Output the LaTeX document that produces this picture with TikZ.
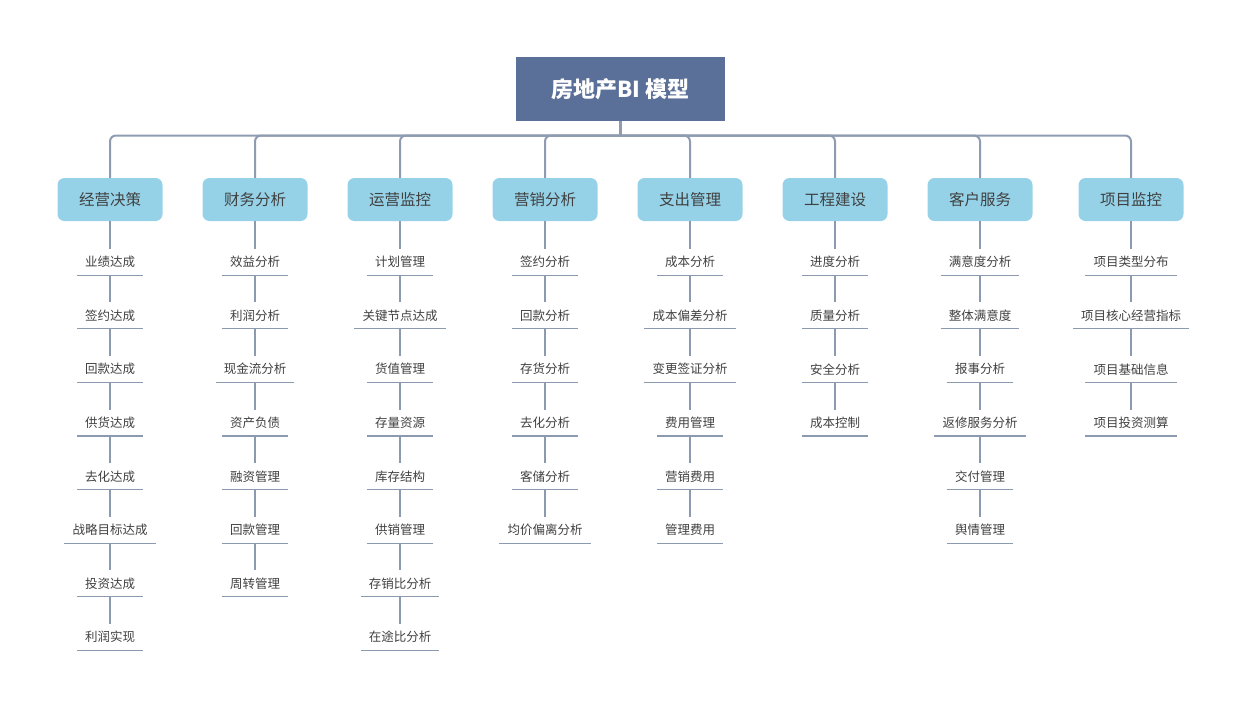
\documentclass[tikz,border=0pt]{standalone}
\usepackage{fontspec}
\setmainfont{Noto Sans CJK SC}
\definecolor{rootfill}{HTML}{5A7098}
\definecolor{catfill}{HTML}{95D2E7}
\definecolor{busc}{HTML}{8E9BB0}
\definecolor{leafline}{HTML}{8C9AAF}
\definecolor{txt}{HTML}{404040}
\tikzset{
  rootbox/.style={fill=rootfill, minimum width=209pt, minimum height=64pt, inner sep=0pt,
    text=white, font=\fontsize{22}{24}\selectfont\bfseries},
  catbox/.style={fill=catfill, rounded corners=7pt, minimum width=105pt, minimum height=43pt,
    inner sep=0pt, text=txt, font=\fontsize{15.5}{17}\selectfont},
  leaf/.style={inner xsep=8pt, inner ysep=0pt, minimum height=26pt, text=txt,
    font=\fontsize{12.5}{14}\selectfont},
  busline/.style={draw=busc, line width=3pt},
  branch/.style={draw=busc, line width=2pt, rounded corners=6pt},
  leafconn/.style={draw=leafline, line width=1.1pt},
  uline/.style={draw=leafline, line width=1.1pt}
}
\begin{document}
\begin{tikzpicture}[x=1pt,y=-1pt]
\useasboundingbox (0,0) rectangle (1247,710);
\node[rootbox] (root) at (620.5,89) {房地产BI 模型};
\coordinate (bus) at (620.5,135.5);
\coordinate (busL) at (110,135.5);
\coordinate (busR) at (1131,135.5);
\draw[busline] (root.south) -- (bus);

\newcommand\mkcat[4]{% name, x, label, list
  \node[catbox] (#1) at (#2,199.5) {#3};
  \draw[branch] (bus) -| (#1.north);
  \def\prev{#1}
  \foreach \t [count=\i, remember=\i as \lasti (initially 0)] in {#4} {
    \node[leaf] (#1-\i) at (#2,{262+53.6*(\i-1)}) {\t};
    \draw[uline] (#1-\i.south west) -- (#1-\i.south east);
    \ifnum\i=1
      \draw[leafconn] (#1.south) -- (#1-\i.north);
    \else
      \draw[leafconn] (#1-\lasti.south) -- (#1-\i.north);
    \fi
  }
}
\mkcat{c1}{110}{经营决策}{业绩达成,签约达成,回款达成,供货达成,去化达成,战略目标达成,投资达成,利润实现}
\mkcat{c2}{255}{财务分析}{效益分析,利润分析,现金流分析,资产负债,融资管理,回款管理,周转管理}
\mkcat{c3}{400}{运营监控}{计划管理,关键节点达成,货值管理,存量资源,库存结构,供销管理,存销比分析,在途比分析}
\mkcat{c4}{545}{营销分析}{签约分析,回款分析,存货分析,去化分析,客储分析,均价偏离分析}
\mkcat{c5}{690}{支出管理}{成本分析,成本偏差分析,变更签证分析,费用管理,营销费用,管理费用}
\mkcat{c6}{835}{工程建设}{进度分析,质量分析,安全分析,成本控制}
\mkcat{c7}{980}{客户服务}{满意度分析,整体满意度,报事分析,返修服务分析,交付管理,舆情管理}
\mkcat{c8}{1131}{项目监控}{项目类型分布,项目核心经营指标,项目基础信息,项目投资测算}
\end{tikzpicture}
\end{document}
